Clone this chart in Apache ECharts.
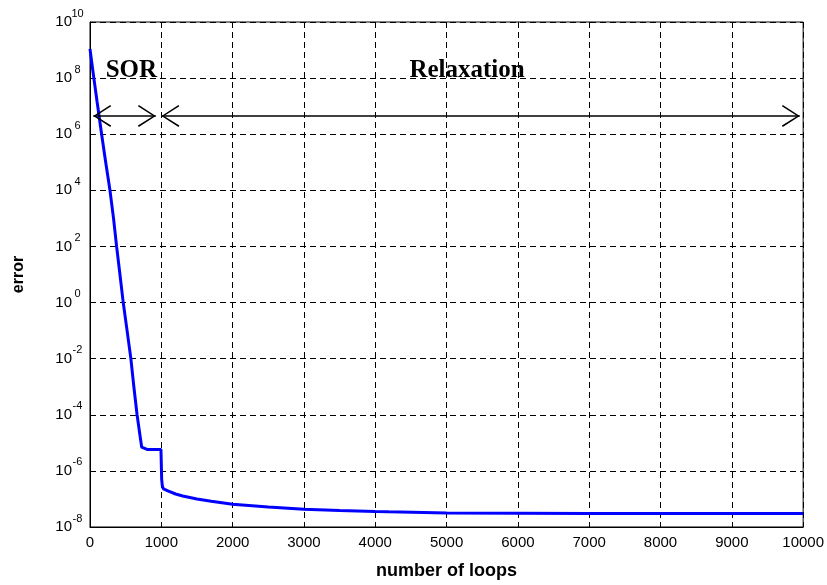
<!DOCTYPE html>
<html>
<head>
<meta charset="utf-8">
<script src="https://cdn.jsdelivr.net/npm/echarts@6/dist/echarts.min.js"></script>
<style>html,body{margin:0;padding:0;background:#fff;overflow:hidden;}#c{width:827px;height:585px;}</style>
</head>
<body>
<div id="c"></div>
<script>
// Data
var loops  = [0, 30, 60, 100, 163, 220, 280, 330, 373, 420, 466, 520, 573, 615, 660, 700, 725, 745, 800, 900, 995, 1005, 1015, 1030, 1100, 1200, 1300, 1500, 1700, 2000, 2500, 3000, 3500, 4000, 4190, 4200, 5000, 6000, 7000, 8000, 9000, 10000];
var errors = [1.1e9, 2.8e8, 7.8e7, 1.4e7, 1e6, 1e5, 1e4, 1e3, 1e2, 1e1, 1, 1e-1, 1e-2, 1e-3, 1e-4, 1.9e-5, 7e-6, 6e-6, 5.8e-6, 5.8e-6, 5.8e-6, 5e-7, 2.8e-7, 2.3e-7, 1.9e-7, 1.5e-7, 1.28e-7, 1e-7, 8.3e-8, 6.5e-8, 5.2e-8, 4.3e-8, 3.9e-8, 3.6e-8, 3.5e-8, 3.2e-8, 3.15e-8, 3.1e-8, 3.05e-8, 3.0e-8, 3.0e-8, 3.0e-8];
var xTicks = [0, 1000, 2000, 3000, 4000, 5000, 6000, 7000, 8000, 9000, 10000];
var yExponents = [-8, -6, -4, -2, 0, 2, 4, 6, 8, 10];
var arrowLevel = 4.5e6;
var sorRange = [46, 923];
var relaxRange = [1002, 9953];
var annotations = [
  {name: 'SOR', x: 580, y: 1.8e8},
  {name: 'Relaxation', x: 5287, y: 1.9e8}
];

var seriesData = loops.map(function (x, i) { return [x, errors[i]]; });
var chevron = 'path://M0,0 L0.01,0 L0,0.01 Z M40,40 L39.99,40 L40,39.99 Z M20,20 L31,37 L29.6,37.9 L20,22.6 L10.4,37.9 L9,37 Z';

var chart = echarts.init(document.getElementById('c'), null, {renderer: 'canvas'});
chart.setOption({
  animation: false,
  backgroundColor: '#fff',
  grid: {left: 90, right: 18, top: 22, bottom: 52, show: true, borderColor: '#000', borderWidth: 1, containLabel: false},
  xAxis: {
    type: 'value', min: xTicks[0], max: xTicks[xTicks.length - 1], interval: 1000,
    name: 'number of loops', nameLocation: 'middle', nameGap: 35,
    nameTextStyle: {fontFamily: 'Liberation Sans, Arial', fontWeight: 'bold', fontSize: 18, color: '#000'},
    axisLine: {show: true, lineStyle: {color: '#000', width: 1}},
    axisTick: {show: true, inside: true, length: 5, lineStyle: {color: '#000'}},
    axisLabel: {fontFamily: 'Liberation Sans, Arial', fontSize: 15, color: '#000', margin: 8,
      formatter: function (v) { return String(v); }},
    splitLine: {show: true, lineStyle: {color: '#000', type: [6, 4], width: 1}}
  },
  yAxis: {
    type: 'log', logBase: 10, min: Math.pow(10, yExponents[0]), max: Math.pow(10, yExponents[yExponents.length - 1]), interval: 2,
    name: 'error', nameLocation: 'middle', nameGap: 63, nameRotate: 90,
    nameTextStyle: {fontFamily: 'Liberation Sans, Arial', fontWeight: 'bold', fontSize: 16, color: '#000'},
    axisLine: {show: true, lineStyle: {color: '#000', width: 1}},
    axisTick: {show: true, inside: true, length: 5, lineStyle: {color: '#000'}},
    minorTick: {show: false},
    axisLabel: {
      margin: 7, color: '#000',
      formatter: function (v) {
        var e = Math.round(Math.log10(v));
        return '{b|10}{s|' + e + '}';
      },
      rich: {
        b: {fontFamily: 'Liberation Sans, Arial', fontSize: 15, color: '#000', lineHeight: 28},
        s: {fontFamily: 'Liberation Sans, Arial', fontSize: 11, color: '#000', lineHeight: 11, verticalAlign: 'top', width: 11, align: 'left'}
      }
    },
    splitLine: {show: true, lineStyle: {color: '#000', type: [6, 4], width: 1}}
  },
  series: [{
    type: 'line',
    data: seriesData,
    showSymbol: false,
    symbol: 'none',
    lineStyle: {color: '#0000ff', width: 3},
    itemStyle: {color: '#0000ff'},
    z: 3,
    markLine: {
      silent: true,
      symbol: [chevron, chevron],
      symbolSize: 40,
      label: {show: false},
      lineStyle: {color: '#000', width: 1.5, type: 'solid'},
      data: [
        [{coord: [sorRange[0], arrowLevel]}, {coord: [sorRange[1], arrowLevel]}],
        [{coord: [relaxRange[0], arrowLevel]}, {coord: [relaxRange[1], arrowLevel]}]
      ]
    },
    markPoint: {
      silent: true,
      symbol: 'circle',
      symbolSize: 0,
      label: {show: true, position: 'inside', formatter: '{b}', fontFamily: 'Liberation Serif, Times New Roman', fontWeight: 'bold', fontSize: 25, color: '#000'},
      data: annotations.map(function (a) { return {name: a.name, coord: [a.x, a.y]}; })
    }
  }]
});
</script>
</body>
</html>
